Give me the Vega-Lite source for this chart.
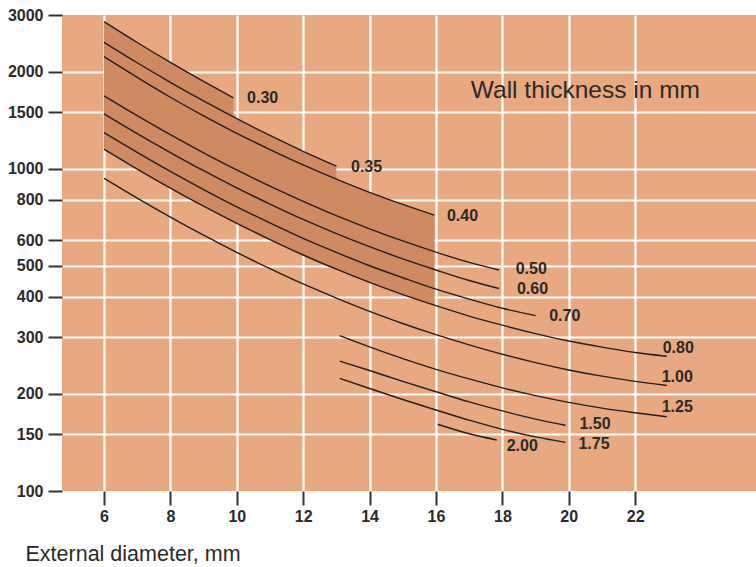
{
  "$schema": "https://vega.github.io/schema/vega-lite/v6.json",
  "width": 694,
  "height": 476,
  "autosize": {"type": "none"},
  "padding": {"left": 62, "top": 15, "right": 0, "bottom": 76},
  "background": "#ffffff",
  "config": {"view": {"fill": "#E8A980", "stroke": null}},
  "datasets": {
    "curves": [
      {"t":"0.30","d":6,"p":2860},{"t":"0.30","d":7,"p":2465},{"t":"0.30","d":8,"p":2138},{"t":"0.30","d":9,"p":1866},{"t":"0.30","d":9.9,"p":1660},
      {"t":"0.35","d":6,"p":2468},{"t":"0.35","d":7,"p":2133},{"t":"0.35","d":8,"p":1855},{"t":"0.35","d":9,"p":1623},{"t":"0.35","d":10,"p":1430},{"t":"0.35","d":11,"p":1269},{"t":"0.35","d":12,"p":1133},{"t":"0.35","d":13,"p":1019},
      {"t":"0.40","d":6,"p":2227},{"t":"0.40","d":7,"p":1922},{"t":"0.40","d":8,"p":1667},{"t":"0.40","d":9,"p":1459},{"t":"0.40","d":10,"p":1288},{"t":"0.40","d":11,"p":1147},{"t":"0.40","d":12,"p":1028},{"t":"0.40","d":13,"p":929},{"t":"0.40","d":14,"p":845},{"t":"0.40","d":15,"p":775},{"t":"0.40","d":15.95,"p":718},
      {"t":"0.50","d":6,"p":1684},{"t":"0.50","d":7,"p":1462},{"t":"0.50","d":8,"p":1276},{"t":"0.50","d":9,"p":1121},{"t":"0.50","d":10,"p":992},{"t":"0.50","d":11,"p":883},{"t":"0.50","d":12,"p":792},{"t":"0.50","d":13,"p":715},{"t":"0.50","d":14,"p":651},{"t":"0.50","d":15,"p":597},{"t":"0.50","d":16,"p":551},{"t":"0.50","d":17,"p":512},{"t":"0.50","d":17.9,"p":485},
      {"t":"0.60","d":6,"p":1481},{"t":"0.60","d":7,"p":1286},{"t":"0.60","d":8,"p":1123},{"t":"0.60","d":9,"p":986},{"t":"0.60","d":10,"p":872},{"t":"0.60","d":11,"p":777},{"t":"0.60","d":12,"p":696},{"t":"0.60","d":13,"p":629},{"t":"0.60","d":14,"p":573},{"t":"0.60","d":15,"p":525},{"t":"0.60","d":16,"p":485},{"t":"0.60","d":17,"p":450},{"t":"0.60","d":17.9,"p":425},
      {"t":"0.70","d":6,"p":1294},{"t":"0.70","d":7,"p":1124},{"t":"0.70","d":8,"p":981},{"t":"0.70","d":9,"p":862},{"t":"0.70","d":10,"p":762},{"t":"0.70","d":11,"p":679},{"t":"0.70","d":12,"p":608},{"t":"0.70","d":13,"p":550},{"t":"0.70","d":14,"p":500},{"t":"0.70","d":15,"p":459},{"t":"0.70","d":16,"p":423},{"t":"0.70","d":17,"p":394},{"t":"0.70","d":18,"p":369},{"t":"0.70","d":19,"p":350},
      {"t":"0.80","d":6,"p":1149},{"t":"0.80","d":7,"p":998},{"t":"0.80","d":8,"p":871},{"t":"0.80","d":9,"p":765},{"t":"0.80","d":10,"p":677},{"t":"0.80","d":11,"p":603},{"t":"0.80","d":12,"p":540},{"t":"0.80","d":13,"p":488},{"t":"0.80","d":14,"p":444},{"t":"0.80","d":15,"p":407},{"t":"0.80","d":16,"p":376},{"t":"0.80","d":17,"p":349},{"t":"0.80","d":18,"p":327},{"t":"0.80","d":19,"p":308},{"t":"0.80","d":20,"p":292},{"t":"0.80","d":21,"p":279.5},{"t":"0.80","d":22,"p":269},{"t":"0.80","d":22.95,"p":262},
      {"t":"1.00","d":6,"p":934},{"t":"1.00","d":7,"p":811},{"t":"1.00","d":8,"p":708},{"t":"1.00","d":9,"p":622},{"t":"1.00","d":10,"p":550},{"t":"1.00","d":11,"p":490},{"t":"1.00","d":12,"p":439},{"t":"1.00","d":13,"p":397},{"t":"1.00","d":14,"p":361},{"t":"1.00","d":15,"p":331},{"t":"1.00","d":16,"p":305.5},{"t":"1.00","d":17,"p":284},{"t":"1.00","d":18,"p":265.6},{"t":"1.00","d":19,"p":250.3},{"t":"1.00","d":20,"p":237.5},{"t":"1.00","d":21,"p":227.2},{"t":"1.00","d":22,"p":218.9},{"t":"1.00","d":22.95,"p":212.6},
      {"t":"1.25","d":13.1,"p":303.5},{"t":"1.25","d":14,"p":280},{"t":"1.25","d":15,"p":257.5},{"t":"1.25","d":16,"p":238.6},{"t":"1.25","d":17,"p":222.7},{"t":"1.25","d":18,"p":209},{"t":"1.25","d":19,"p":197.7},{"t":"1.25","d":20,"p":188.3},{"t":"1.25","d":21,"p":180.8},{"t":"1.25","d":22,"p":174.9},{"t":"1.25","d":22.95,"p":170},
      {"t":"1.50","d":13.1,"p":253},{"t":"1.50","d":14,"p":236.5},{"t":"1.50","d":15,"p":218.8},{"t":"1.50","d":16,"p":203.2},{"t":"1.50","d":17,"p":189.1},{"t":"1.50","d":18,"p":177.2},{"t":"1.50","d":19,"p":167.2},{"t":"1.50","d":19.9,"p":160},
      {"t":"1.75","d":13.1,"p":223.7},{"t":"1.75","d":14,"p":208},{"t":"1.75","d":15,"p":192.3},{"t":"1.75","d":16,"p":178.4},{"t":"1.75","d":17,"p":165.9},{"t":"1.75","d":18,"p":155.4},{"t":"1.75","d":19,"p":147.2},{"t":"1.75","d":19.9,"p":141.6},
      {"t":"2.00","d":16.05,"p":161.1},{"t":"2.00","d":17,"p":150.5},{"t":"2.00","d":17.83,"p":144}
    ],
    "band": [
      {"seg":"a","d":6,"hi":2860,"lo":1149},{"seg":"a","d":7,"hi":2465,"lo":998},{"seg":"a","d":8,"hi":2138,"lo":871},{"seg":"a","d":9,"hi":1866,"lo":765},{"seg":"a","d":9.9,"hi":1660,"lo":685},
      {"seg":"b","d":6,"hi":2468,"lo":1149},{"seg":"b","d":7,"hi":2133,"lo":998},{"seg":"b","d":8,"hi":1855,"lo":871},{"seg":"b","d":9,"hi":1623,"lo":765},{"seg":"b","d":10,"hi":1430,"lo":677},{"seg":"b","d":11,"hi":1269,"lo":603},{"seg":"b","d":12,"hi":1133,"lo":540},{"seg":"b","d":13,"hi":1019,"lo":488},
      {"seg":"c","d":6,"hi":2227,"lo":1149},{"seg":"c","d":7,"hi":1922,"lo":998},{"seg":"c","d":8,"hi":1667,"lo":871},{"seg":"c","d":9,"hi":1459,"lo":765},{"seg":"c","d":10,"hi":1288,"lo":677},{"seg":"c","d":11,"hi":1147,"lo":603},{"seg":"c","d":12,"hi":1028,"lo":540},{"seg":"c","d":13,"hi":929,"lo":488},{"seg":"c","d":14,"hi":845,"lo":444},{"seg":"c","d":15,"hi":775,"lo":407},{"seg":"c","d":15.95,"hi":718,"lo":377}
    ],
    "labels": [
      {"t":"0.30","d":10.31,"p":1658},{"t":"0.35","d":13.44,"p":1012},{"t":"0.40","d":16.33,"p":715},
      {"t":"0.50","d":18.40,"p":489},{"t":"0.60","d":18.44,"p":424},{"t":"0.70","d":19.41,"p":349},
      {"t":"0.80","d":22.83,"p":277},{"t":"1.00","d":22.80,"p":226},{"t":"1.25","d":22.80,"p":182},
      {"t":"1.50","d":20.32,"p":161},{"t":"1.75","d":20.29,"p":140},{"t":"2.00","d":18.13,"p":138}
    ],
    "note": [{"t":"Wall thickness in mm","d":20.5,"p":1654}]
  },
  "encoding": {
    "x": {
      "field": "d", "type": "quantitative",
      "scale": {"domain": [4.735, 25.64], "nice": false, "zero": false},
      "axis": {
        "values": [6, 8, 10, 12, 14, 16, 18, 20, 22],
        "domain": false, "grid": true, "gridColor": "#ffffff", "gridWidth": 2.2,
        "ticks": true, "tickSize": 14, "tickWidth": 2, "tickColor": "#333333",
        "labelFont": "Liberation Sans", "labelFontWeight": "bold", "labelFontSize": 16,
        "labelColor": "#2a2a2a", "labelPadding": 3,
        "title": "External diameter, mm", "titleFont": "Liberation Sans", "titleFontSize": 21.5,
        "titleFontWeight": "normal", "titleColor": "#2a2a2a", "titleAnchor": "start",
        "titleAlign": "left", "titleBaseline": "alphabetic", "titleX": -37, "titleY": 69
      }
    },
    "y": {
      "field": "p", "type": "quantitative",
      "scale": {"type": "log", "domain": [100, 3000], "nice": false},
      "axis": {
        "values": [100, 150, 200, 300, 400, 500, 600, 800, 1000, 1500, 2000, 3000],
        "format": "d", "domain": false, "grid": true, "gridColor": "#ffffff", "gridWidth": 2.2,
        "gridOpacity": {"condition": {"test": "datum.value == 100 || datum.value == 3000", "value": 0}, "value": 1},
        "ticks": true, "tickSize": 14, "tickWidth": 2, "tickColor": "#333333",
        "labelFont": "Liberation Sans", "labelFontWeight": "bold", "labelFontSize": 16,
        "labelColor": "#2a2a2a", "labelPadding": 5, "title": null
      }
    }
  },
  "layer": [
    {
      "data": {"name": "band"},
      "mark": {"type": "area", "color": "#D08A62", "interpolate": "monotone", "opacity": 1},
      "encoding": {
        "y": {"field": "hi", "type": "quantitative", "title": null},
        "y2": {"field": "lo"},
        "detail": {"field": "seg"}
      }
    },
    {
      "data": {"name": "curves"},
      "mark": {"type": "line", "color": "#231F20", "strokeWidth": 1.4, "interpolate": "monotone"},
      "encoding": {
        "detail": {"field": "t"}
      }
    },
    {
      "data": {"name": "labels"},
      "mark": {"type": "text", "align": "left", "baseline": "middle", "font": "Liberation Sans", "fontWeight": "bold", "fontSize": 16, "color": "#2a2a2a"},
      "encoding": {
        "text": {"field": "t"}
      }
    },
    {
      "data": {"name": "note"},
      "mark": {"type": "text", "align": "center", "baseline": "alphabetic", "font": "Liberation Sans", "fontSize": 24.5, "color": "#2a2a2a"},
      "encoding": {
        "text": {"field": "t"}
      }
    }
  ]
}
